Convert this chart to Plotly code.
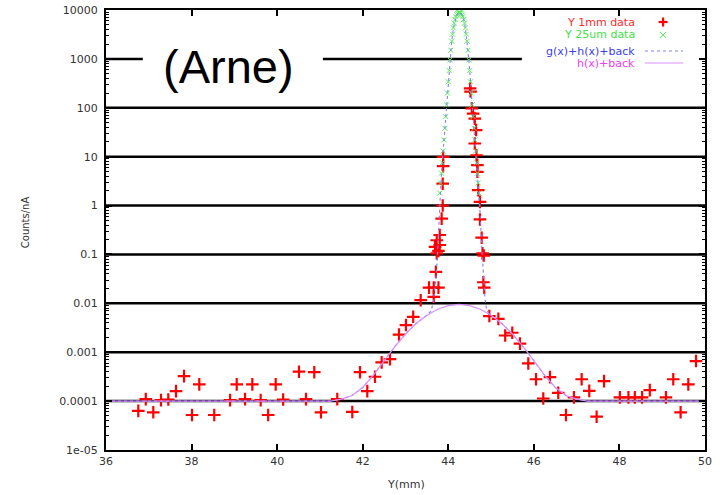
import plotly.graph_objects as go

# ---- data ----
red_x = [36.755, 36.93, 37.105, 37.285, 37.456, 37.636, 37.823, 38.01, 38.18, 38.53,
         38.90, 39.055, 39.25, 39.42, 39.615, 39.79, 39.966, 40.14, 40.51, 40.674,
         40.868, 41.024, 41.405, 41.756, 41.936, 42.107, 42.287, 42.443, 42.637, 42.848,
         43.01, 43.18, 43.355, 43.55, 43.66, 43.77, 43.66, 43.71, 43.73, 43.77,
         43.69, 43.80, 43.73, 43.80, 43.845, 43.87, 43.87, 43.88, 43.88,
         44.51, 44.52, 44.55, 44.58, 44.62, 44.65, 44.62, 44.66, 44.68, 44.68,
         44.70, 44.74, 44.74, 44.78, 44.80, 44.83, 44.82, 44.84,
         44.96, 45.17, 45.33, 45.495, 45.675, 45.87, 46.05, 46.22, 46.376, 46.57,
         46.75, 46.937, 47.117, 47.295, 47.467, 47.64, 48.01, 48.21, 48.36, 48.53,
         48.71, 49.087, 49.258, 49.43, 49.61, 49.79]
red_y = [6.3e-5, 1.1e-4, 5.9e-5, 1.05e-4, 1.08e-4, 1.6e-4, 3.25e-4, 5.2e-5, 2.2e-4, 5.2e-5,
         1.05e-4, 2.2e-4, 1.1e-4, 2.2e-4, 1.05e-4, 5.2e-5, 2.2e-4, 1.08e-4, 4.0e-4, 1.1e-4,
         3.9e-4, 5.9e-5, 1.1e-4, 6.0e-5, 3.9e-4, 1.6e-4, 3.15e-4, 6.2e-4, 7.2e-4, 2.3e-3,
         3.6e-3, 5.3e-3, 0.0116, 0.021, 0.021, 0.021, 0.0136, 0.044, 0.105, 0.118,
         0.143, 0.156, 0.195, 0.25, 0.54, 1.0, 2.8, 6.4, 9.9,
         250, 215, 97, 76, 60, 35, 18.6, 10.7, 6.7, 4.9,
         2.07, 1.19, 0.52, 0.22, 0.105, 0.095, 0.027, 0.021,
         5.5e-3, 4.8e-3, 2.2e-3, 2.5e-3, 1.5e-3, 5.9e-4, 2.8e-4, 1.13e-4, 3.1e-4, 1.48e-4,
         5.2e-5, 1.19e-4, 2.8e-4, 1.62e-4, 4.8e-5, 2.56e-4, 1.19e-4, 1.19e-4, 1.19e-4, 1.19e-4,
         1.68e-4, 1.19e-4, 2.8e-4, 5.9e-5, 2.2e-4, 6.6e-4]

green_x = [43.80, 43.82, 43.84, 43.86, 43.88, 43.90, 43.92, 43.94, 43.96, 43.98,
           44.00, 44.02, 44.04, 44.06, 44.08, 44.10, 44.12, 44.14, 44.16, 44.18,
           44.20, 44.22, 44.24, 44.26, 44.28, 44.30, 44.32, 44.34, 44.36, 44.38,
           44.40, 44.42, 44.44, 44.46, 44.48, 44.50, 44.52, 44.54, 44.56, 44.58,
           44.60, 44.62, 44.64, 44.66, 44.68, 44.70, 44.72]
green_y = [1.8, 2.9, 4.6, 7.5, 13, 22, 38, 66, 115, 200,
           340, 580, 950, 1500, 2300, 3200, 4300, 5400, 6400, 7300,
           8000, 8500, 8800, 8900, 8800, 8500, 8000, 7300, 6400, 5400,
           4300, 3200, 2300, 1500, 950, 580, 340, 200, 115, 66,
           38, 22, 13, 7.5, 4.6, 2.9, 1.8]

fit_x = [36.0, 41.25, 41.5, 41.75, 42.0, 42.25, 42.5, 42.75, 43.0, 43.25, 43.5,
         43.6, 43.65, 43.70, 43.74, 43.78, 43.80, 43.84, 43.88, 43.92, 43.96, 44.00,
         44.04, 44.08, 44.12, 44.16, 44.20, 44.24, 44.28, 44.32, 44.36, 44.40,
         44.44, 44.48, 44.52, 44.56, 44.60, 44.64, 44.68, 44.72, 44.74, 44.78,
         44.82, 44.86, 44.90, 45.0, 45.25, 45.5, 45.75, 46.0, 46.25, 46.5, 46.75,
         47.0, 47.25, 50.0]
fit_y = [1.0e-4, 1.0e-4, 1.1e-4, 1.3e-4, 1.9e-4, 3.4e-4, 6.7e-4, 1.3e-3, 2.36e-3, 3.87e-3, 5.72e-3,
         7.0e-3, 0.011, 0.025, 0.075, 0.45, 1.5, 4.6, 13, 38, 115, 340,
         950, 2300, 4300, 6400, 8000, 8800, 8800, 8000, 6400, 4300,
         2300, 950, 340, 115, 38, 13, 4.6, 1.8, 0.8, 0.15,
         0.04, 0.012, 7.0e-3, 5.72e-3, 3.87e-3, 2.36e-3, 1.3e-3, 6.7e-4, 3.4e-4, 1.9e-4, 1.3e-4,
         1.1e-4, 1.0e-4, 1.0e-4]

h_x = [36.0, 41.25, 41.5, 41.75, 42.0, 42.25, 42.5, 42.75, 43.0, 43.25, 43.5, 43.75,
       44.0, 44.25, 44.5, 44.75, 45.0, 45.25, 45.5, 45.75, 46.0, 46.25, 46.5, 46.75,
       47.0, 47.25, 50.0]
h_y = [1.0e-4, 1.0e-4, 1.1e-4, 1.3e-4, 1.9e-4, 3.4e-4, 6.7e-4, 1.3e-3, 2.36e-3, 3.87e-3, 5.72e-3, 7.58e-3,
       8.97e-3, 9.5e-3, 8.97e-3, 7.58e-3, 5.72e-3, 3.87e-3, 2.36e-3, 1.3e-3, 6.7e-4, 3.4e-4, 1.9e-4, 1.3e-4,
       1.1e-4, 1.0e-4, 1.0e-4]

x_ticks = [36, 38, 40, 42, 44, 46, 48, 50]
y_ticks = [1e-5, 1e-4, 1e-3, 1e-2, 1e-1, 1, 10, 100, 1000, 10000]
y_tick_text = ["1e-05", "0.0001", "0.001", "0.01", "0.1", "1", "10", "100", "1000", "10000"]

# overlaid black guide lines
guide_levels = [100, 10, 1, 0.1, 0.01, 0.001, 0.0001]
guide_1000_x = [36.0, 36.86, None, 41.07, 45.72]
guide_1000_y = [1000, 1000, None, 1000, 1000]

legend_names = ["Y 1mm data", "Y 25um data", "g(x)+h(x)+back", "h(x)+back"]
legend_colors = ["#ff2a2a", "#44e044", "#3c3cf0", "#f03cf0"]

fig = go.Figure()

gx, gy = [], []
for lv in guide_levels:
    gx += [36, 50, None]
    gy += [lv, lv, None]
fig.add_trace(go.Scatter(x=gx, y=gy, mode="lines", line=dict(color="black", width=2.5),
                         hoverinfo="skip", showlegend=False))
fig.add_trace(go.Scatter(x=guide_1000_x, y=guide_1000_y, mode="lines",
                         line=dict(color="black", width=2.5), hoverinfo="skip", showlegend=False))

fig.add_trace(go.Scatter(x=red_x, y=red_y, mode="markers", name=legend_names[0],
                         marker=dict(symbol="cross-thin", size=9,
                                     line=dict(color="#ff0000", width=2.2)),
                         showlegend=False))
fig.add_trace(go.Scatter(x=green_x, y=green_y, mode="markers", name=legend_names[1],
                         marker=dict(symbol="x-thin", size=5,
                                     line=dict(color="#55ee55", width=1)),
                         showlegend=False))
fig.add_trace(go.Scatter(x=fit_x, y=fit_y, mode="lines", name=legend_names[2],
                         line=dict(color="#8080ff", width=1.1, dash="dot"),
                         showlegend=False))
fig.add_trace(go.Scatter(x=h_x, y=h_y, mode="lines", name=legend_names[3],
                         line=dict(color="#d890ff", width=1.2),
                         showlegend=False))

annotations = []
rows_y = [0.9727, 0.9432, 0.9068, 0.8795]
for name, col, yy in zip(legend_names, legend_colors, rows_y):
    annotations.append(dict(xref="paper", yref="paper", x=0.8865, y=yy, text=name,
                            showarrow=False, xanchor="right", yanchor="middle",
                            font=dict(family="DejaVu Sans", size=11, color=col)))
annotations.append(dict(xref="paper", yref="paper", x=0.2053, y=0.8705, text="(Arne)",
                        showarrow=False, xanchor="center", yanchor="middle",
                        font=dict(family="Liberation Sans", size=47, color="black")))
annotations.append(dict(xref="paper", yref="paper", x=-0.135, y=0.518, text="Counts/nA",
                        showarrow=False, textangle=-90, xanchor="center", yanchor="middle",
                        font=dict(family="DejaVu Sans", size=10, color="#333")))
annotations.append(dict(xref="paper", yref="paper", x=0.5, y=-0.078, text="Y(mm)",
                        showarrow=False, xanchor="center", yanchor="middle",
                        font=dict(family="DejaVu Sans", size=11, color="#333")))

# legend sample glyphs drawn as small shapes
sx = 0.930
pdx, pdy = 4.5 / 599, 4.5 / 440
xdx, xdy = 3.0 / 599, 3.0 / 440
shapes = [
    dict(type="line", xref="paper", yref="paper", x0=sx - pdx, x1=sx + pdx, y0=rows_y[0], y1=rows_y[0],
         line=dict(color="#ff0000", width=2.2)),
    dict(type="line", xref="paper", yref="paper", x0=sx, x1=sx, y0=rows_y[0] - pdy, y1=rows_y[0] + pdy,
         line=dict(color="#ff0000", width=2.2)),
    dict(type="line", xref="paper", yref="paper", x0=sx - xdx, x1=sx + xdx, y0=rows_y[1] - xdy, y1=rows_y[1] + xdy,
         line=dict(color="#55ee55", width=1)),
    dict(type="line", xref="paper", yref="paper", x0=sx - xdx, x1=sx + xdx, y0=rows_y[1] + xdy, y1=rows_y[1] - xdy,
         line=dict(color="#55ee55", width=1)),
    dict(type="line", xref="paper", yref="paper", x0=0.8998, x1=0.9633, y0=rows_y[2], y1=rows_y[2],
         line=dict(color="#8080ff", width=1.1, dash="dot")),
    dict(type="line", xref="paper", yref="paper", x0=0.8998, x1=0.9633, y0=rows_y[3], y1=rows_y[3],
         line=dict(color="#d890ff", width=1.2)),
]

fig.update_layout(
    width=722, height=495,
    margin=dict(l=106, r=17, t=10, b=45, autoexpand=False),
    paper_bgcolor="white", plot_bgcolor="white",
    annotations=annotations, shapes=shapes,
    font=dict(family="DejaVu Sans", size=11, color="#333"),
)
fig.update_xaxes(range=[36, 50], tickvals=x_ticks, ticktext=[str(v) for v in x_ticks],
                 automargin=False,
                 showgrid=False, zeroline=False, showline=True, linecolor="black", linewidth=2,
                 mirror="allticks", ticks="inside", ticklen=6, tickwidth=1.5, tickcolor="black",
                 tickfont=dict(family="DejaVu Sans", size=11, color="#333"))
fig.update_yaxes(type="log", range=[-5, 4], tickvals=y_ticks, ticktext=y_tick_text,
                 automargin=False,
                 showgrid=False, zeroline=False, showline=True, linecolor="black", linewidth=2,
                 mirror="allticks", ticks="inside", ticklen=6, tickwidth=1.5, tickcolor="black",
                 ticklabelstandoff=4,
                 minor=dict(ticks="inside", ticklen=3, tickcolor="black", tickwidth=1,
                            tickvals=[v * m for v in y_ticks[:-1] for m in (2, 3, 4, 5, 6, 7, 8, 9)]),
                 tickfont=dict(family="DejaVu Sans", size=11, color="#333"))

fig.write_html("out.html")
